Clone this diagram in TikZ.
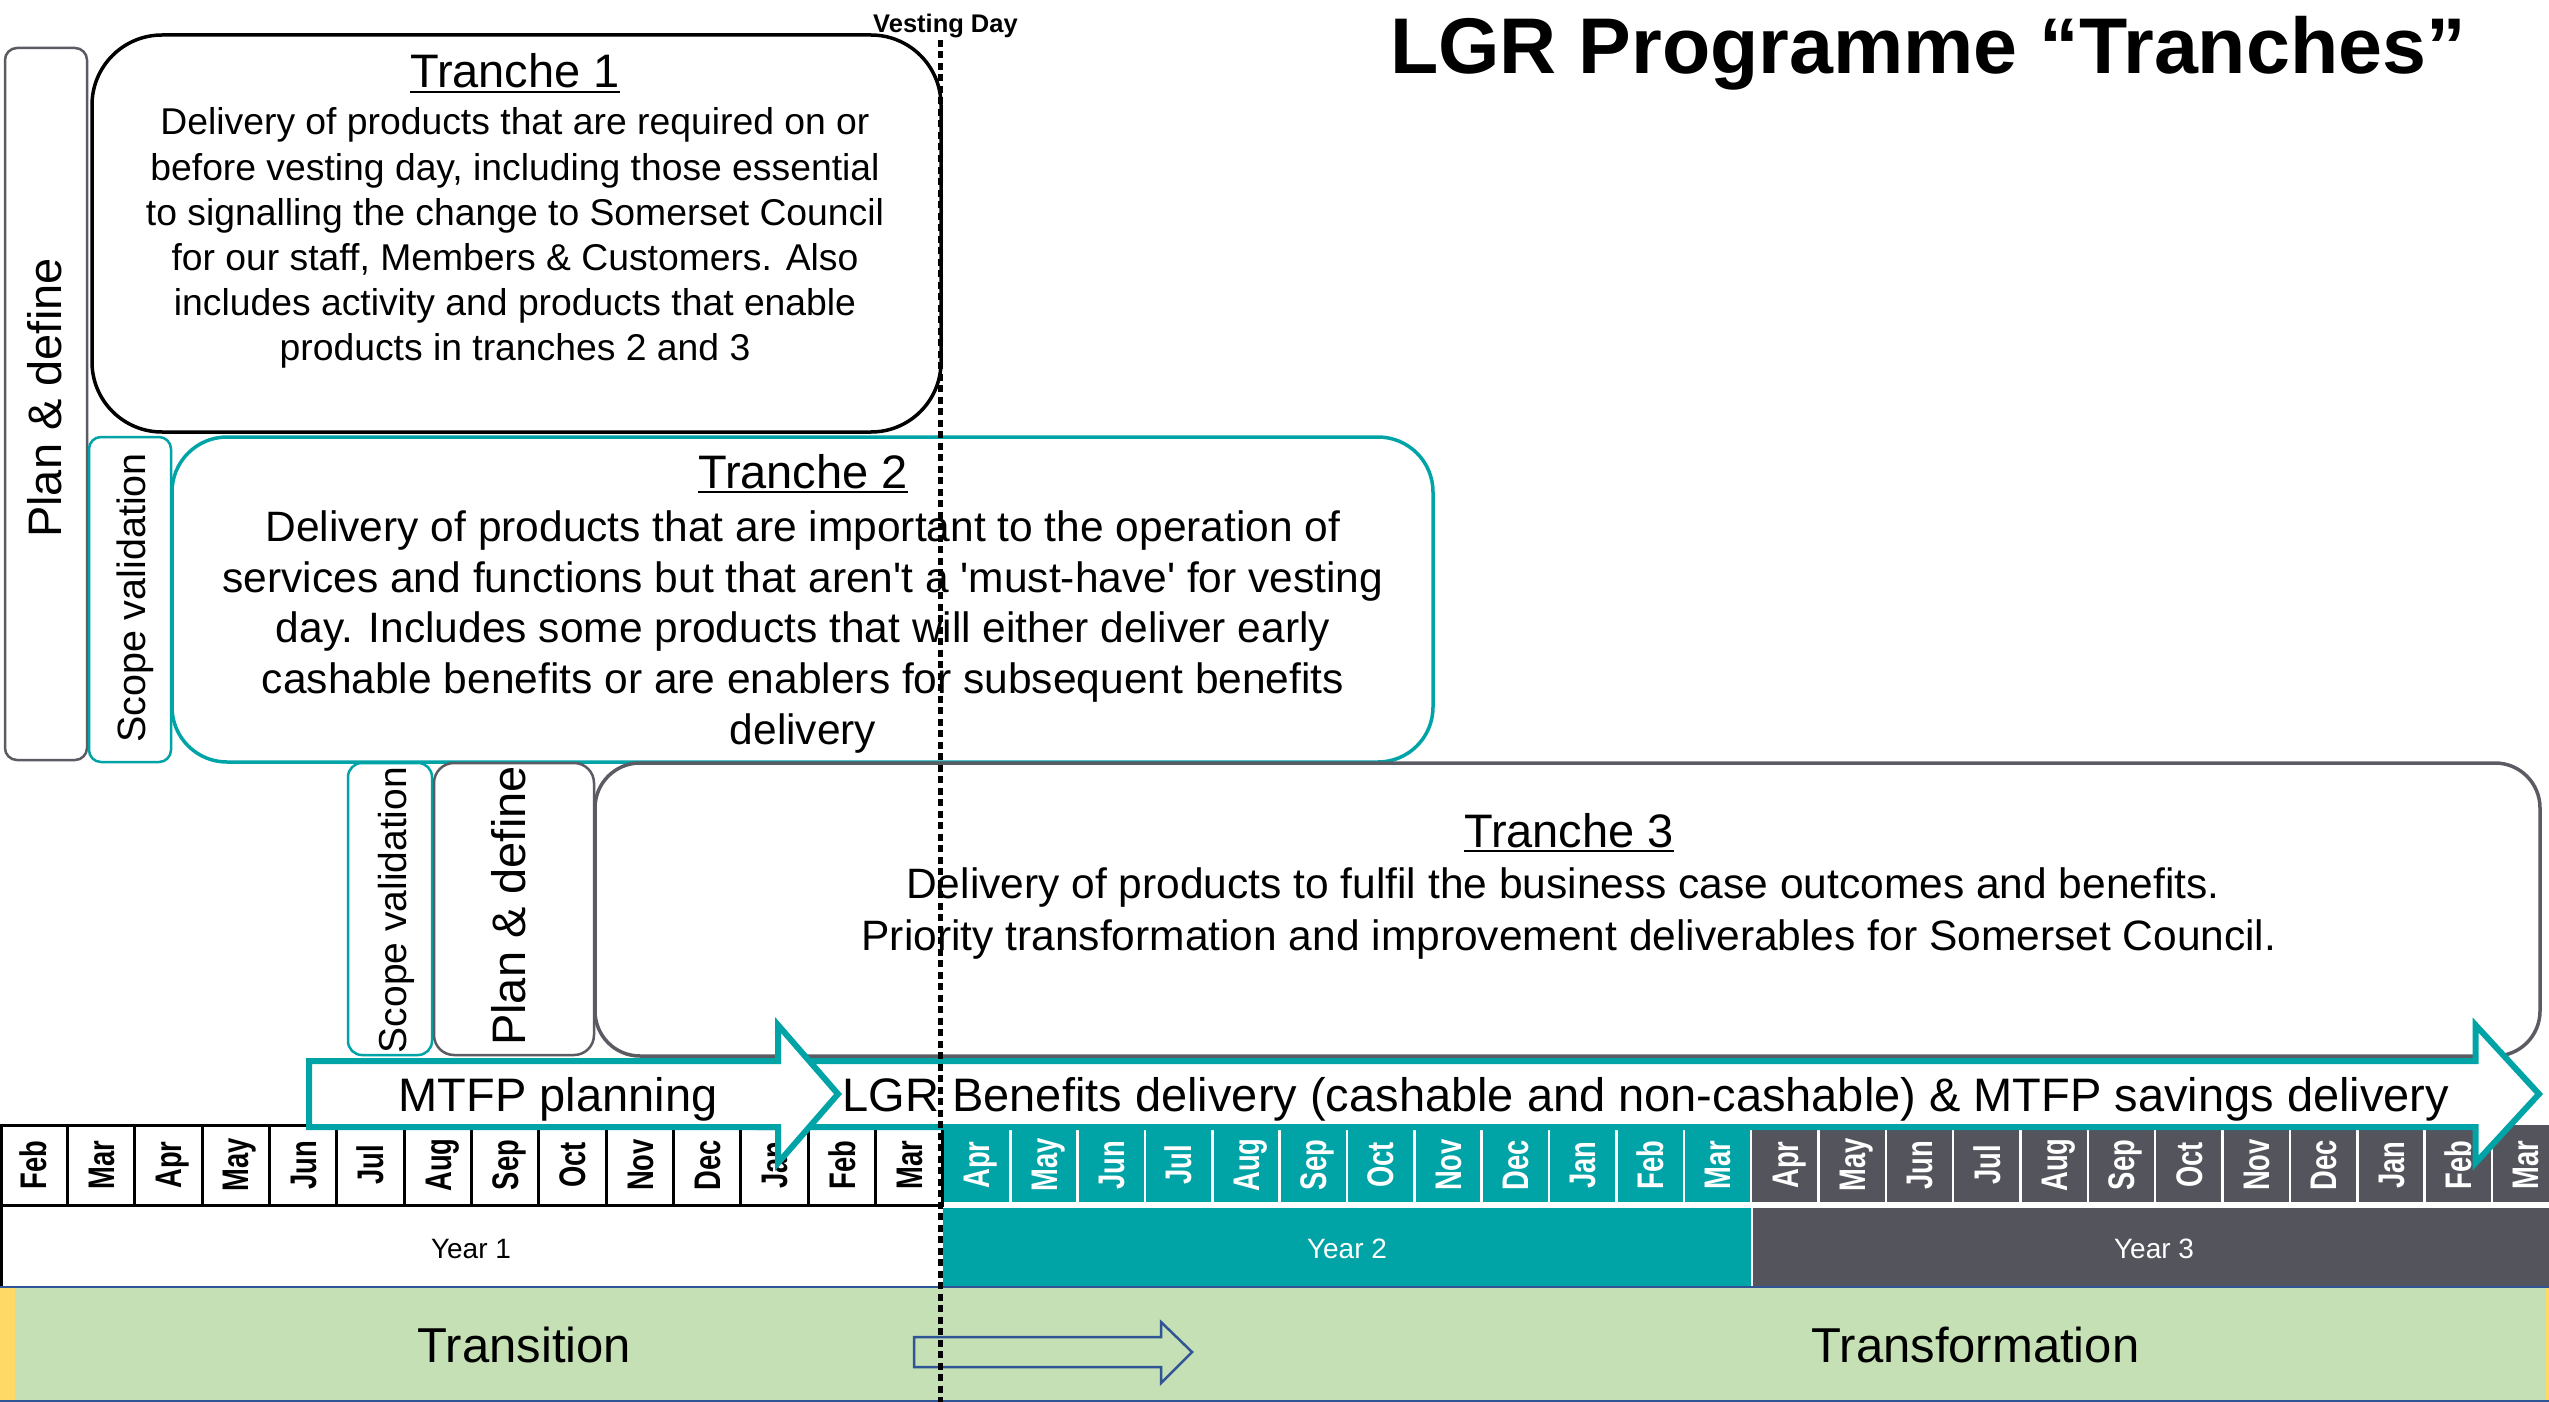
\documentclass[tikz,border=0pt]{standalone}
\usepackage{fontspec}
\setmainfont{Liberation Sans}
\usepackage{graphicx}

\definecolor{lgrteal}{HTML}{00A3A6}
\definecolor{lgrgray}{HTML}{54545C}
\definecolor{boxgray}{HTML}{5B5B63}
\definecolor{bandgreen}{HTML}{C5E0B4}
\definecolor{bandyellow}{HTML}{FFD966}
\definecolor{bandblue}{HTML}{2F5597}

% font size given in picture units (1 unit = 1pt)
\newcommand\pxsize[1]{\fontsize{#1}{#1}\selectfont}
% month names are set narrow along the reading direction
\newcommand\monthtag[1]{\scalebox{0.74}[1]{#1}}

\tikzset{
  every node/.style={inner sep=0pt, outer sep=0pt},
  tranchebox/.style={draw, line width=3.5pt, fill=white},
  phasebox/.style={draw, line width=2.5pt, fill=white},
  upright/.style={rotate=90, anchor=center, text depth=0pt},
  ttl/.style={anchor=base, font=\pxsize{47}},
  uline/.style={line width=2.5pt},
  bodyA/.style={anchor=base, font=\pxsize{37.3}},
  bodyB/.style={anchor=base, font=\pxsize{42.5}},
  mon/.style={rotate=90, text height=26.5pt, text depth=0pt, font=\pxsize{37}\bfseries},
  yearlbl/.style={anchor=base, font=\pxsize{28}},
  bandlbl/.style={anchor=base, font=\pxsize{49}},
  arrowlbl/.style={anchor=base, font=\pxsize{47}},
  blockarrow/.style={draw=lgrteal, fill=white, line width=6pt},
  vesting/.style={line width=5pt, dash pattern=on 7pt off 4.5pt},
}

\begin{document}
\begin{tikzpicture}[x=1pt,y=-1pt]
\useasboundingbox[fill=white] (0,0) rectangle (2549,1402);

% ---------- phase and tranche boxes ----------
\node[phasebox, draw=boxgray, rounded corners=12pt, minimum width=82pt, minimum height=712pt] (pd1) at (46,404) {};
\node[phasebox, draw=lgrteal, rounded corners=12pt, minimum width=82pt, minimum height=325pt] (sv1) at (130,599.5) {};
\node[tranchebox, draw=black, rounded corners=70pt, minimum width=849pt, minimum height=397pt] (t1) at (516.5,233.5) {};
\node[tranchebox, draw=lgrteal, rounded corners=55pt, minimum width=1261pt, minimum height=325pt] (t2) at (802.5,599.5) {};
\node[phasebox, draw=lgrteal, rounded corners=14pt, minimum width=84pt, minimum height=292pt] (sv2) at (390,909) {};
\node[phasebox, draw=boxgray, rounded corners=20pt, minimum width=160pt, minimum height=292pt] (pd2) at (514,909) {};
\node[tranchebox, draw=boxgray, rounded corners=45pt, minimum width=1945pt, minimum height=293pt] (t3) at (1567.5,909.5) {};

% ---------- vertical phase labels ----------
\node[upright, text height=33.6pt, font=\pxsize{47}] (pd1txt) at (45,398) {Plan \& define};
\node[upright, text height=28.3pt, font=\pxsize{39.5}] (sv1txt) at (131,598) {Scope validation};
\node[upright, text height=28pt, font=\pxsize{39}] (sv2txt) at (392.5,910) {Scope validation};
\node[upright, text height=33.6pt, font=\pxsize{47}] (pd2txt) at (508.5,906) {Plan \& define};

% ---------- tranche 1 ----------
\node[ttl] (t1title) at (515,88) {Tranche 1};
\draw[uline] ([yshift=-4pt]t1title.base west) -- ([yshift=-4pt]t1title.base east);
\node[bodyA] (t1a) at (515,135) {Delivery of products that are required on or};
\node[bodyA] (t1b) at (515,180) {before vesting day, including those essential};
\node[bodyA] (t1c) at (515,225) {to signalling the change to Somerset Council};
\node[bodyA] (t1d) at (515,270) {for our staff, Members \& Customers. Also};
\node[bodyA] (t1e) at (515,315) {includes activity and products that enable};
\node[bodyA] (t1f) at (515,360) {products in tranches 2 and 3};

% ---------- tranche 2 ----------
\node[ttl] (t2title) at (803,488) {Tranche 2};
\draw[uline] ([yshift=-4pt]t2title.base west) -- ([yshift=-4pt]t2title.base east);
\node[bodyB] (t2a) at (803,541) {Delivery of products that are important to the operation of};
\node[bodyB] (t2b) at (803,592) {services and functions but that aren\textquotesingle t a \textquotesingle must-have\textquotesingle{} for vesting};
\node[bodyB] (t2c) at (803,642.5) {day. Includes some products that will either deliver early};
\node[bodyB] (t2d) at (803,693.5) {cashable benefits or are enablers for subsequent benefits};
\node[bodyB] (t2e) at (803,744) {delivery};

% ---------- tranche 3 ----------
\node[ttl] (t3title) at (1569,847) {Tranche 3};
\draw[uline] ([yshift=-4pt]t3title.base west) -- ([yshift=-4pt]t3title.base east);
\node[bodyB] (t3a) at (1563,898) {Delivery of products to fulfil the business case outcomes and benefits.};
\node[bodyB] (t3b) at (1569,950) {Priority transformation and improvement deliverables for Somerset Council.};

% ---------- timeline: year 2 and year 3 bands ----------
\fill[lgrteal] (942.9,1125) rectangle (1751.1,1202);
\fill[lgrgray] (1751.1,1125) rectangle (2549,1202);
\fill[lgrteal] (942.9,1208) rectangle (1751.1,1286.5);
\fill[lgrgray] (1752.6,1208) rectangle (2549,1286.5);
\foreach \k in {15,...,37}
  \draw[white, line width=2.5pt] ({\k*67.35},1125) -- ({\k*67.35},1202);

% ---------- timeline: year 1 grid ----------
\draw[line width=3pt] (1.5,1125.5) rectangle (942.9,1205.5);
\foreach \k in {1,...,13}
  \draw[line width=3pt] ({\k*67.35},1125.5) -- ({\k*67.35},1205.5);
\draw[line width=3pt] (1.5,1205.5) -- (1.5,1287);

% ---------- month labels ----------
\foreach \m [count=\k from 0] in {Feb,Mar,Apr,May,Jun,Jul,Aug,Sep,Oct,Nov,Dec,Jan,Feb,Mar}
  \node[mon, text=black] (ma\k) at ({(\k+0.5)*67.35},1165) {\monthtag{\m}};
\foreach \m [count=\k from 14] in {Apr,May,Jun,Jul,Aug,Sep,Oct,Nov,Dec,Jan,Feb,Mar}
  \node[mon, text=white] (mb\k) at ({(\k+0.5)*67.35},1165) {\monthtag{\m}};
\foreach \m [count=\k from 26] in {Apr,May,Jun,Jul,Aug,Sep,Oct,Nov,Dec,Jan,Feb,Mar}
  \node[mon, text=white] (mc\k) at ({(\k+0.5)*67.35},1165) {\monthtag{\m}};

% ---------- year labels ----------
\node[yearlbl] (y1) at (471,1258) {Year 1};
\node[yearlbl, text=white] (y2) at (1347,1258) {Year 2};
\node[yearlbl, text=white] (y3) at (2154,1258) {Year 3};

% ---------- transition / transformation band ----------
\fill[bandgreen] (0,1287) rectangle (2549,1400.5);
\fill[bandyellow] (0,1288) rectangle (15,1400);
\fill[bandyellow] (2545.5,1288) rectangle (2549,1400);
\draw[bandblue, line width=2.5pt] (0,1287) -- (2549,1287);
\draw[bandblue, line width=2pt] (0,1401) -- (2549,1401);
\draw[bandblue, line width=2.5pt] (914,1337) -- (1161,1337) -- (1161,1322) -- (1192,1352)
  -- (1161,1383) -- (1161,1367) -- (914,1367) -- cycle;
\node[bandlbl] (trans) at (524.5,1362) {Transition};
\node[bandlbl] (transf) at (1975.5,1362) {Transformation};

% ---------- block arrows ----------
\draw[blockarrow] (760,1061) -- (2475.5,1061) -- (2475.5,1025) -- (2539,1094)
  -- (2475.5,1163) -- (2475.5,1127) -- (760,1127) -- cycle;
\draw[blockarrow] (309,1061) -- (778,1061) -- (778,1025) -- (838,1094)
  -- (778,1163) -- (778,1127) -- (309,1127) -- cycle;
\node[arrowlbl] (mtfp) at (558,1111) {MTFP planning};
\node[arrowlbl] (lgr) at (1646,1111) {LGR Benefits delivery (cashable and non-cashable) \& MTFP savings delivery};

% ---------- heading ----------
\node[anchor=base, font=\pxsize{79}\bfseries] (heading) at (1928,74) {LGR Programme “Tranches”};
\node[anchor=base, font=\pxsize{25.5}\bfseries] (vday) at (945.5,33) {Vesting Day};

% ---------- vesting day line ----------
\coordinate (vtop) at (940,40);
\coordinate (vbot) at (940,1402);
\draw[vesting] (vtop) -- (vbot);

\end{tikzpicture}
\end{document}
